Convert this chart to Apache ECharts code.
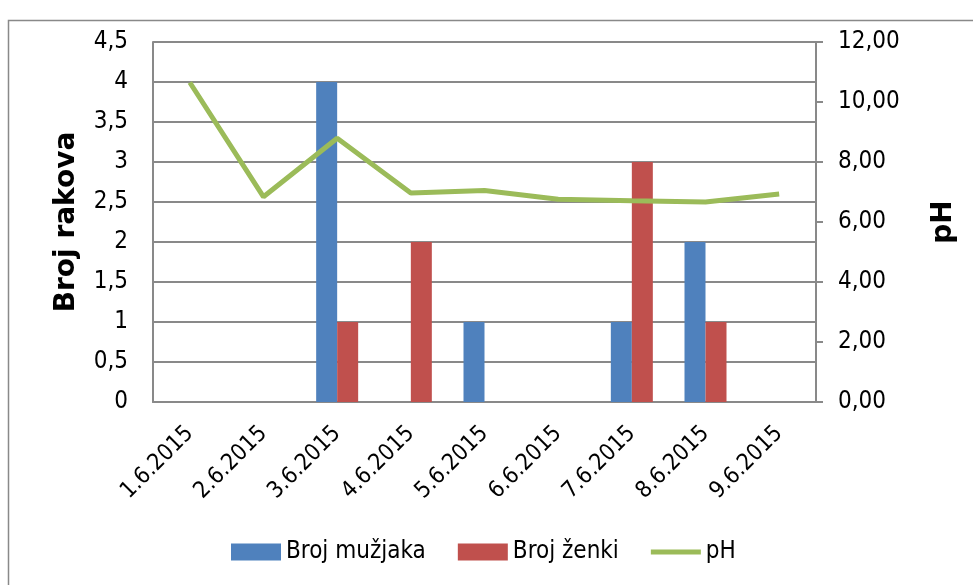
<!DOCTYPE html>
<html>
<head>
<meta charset="utf-8">
<script src="https://cdn.jsdelivr.net/npm/echarts@6/dist/echarts.min.js"></script>
<style>
  html, body { margin: 0; padding: 0; background: #fff; }
  #chart { width: 973px; height: 585px; }
</style>
</head>
<body>
<div id="chart"></div>
<script>
// datumi uzorkovanja
const dates = ['1.6.2015', '2.6.2015', '3.6.2015', '4.6.2015', '5.6.2015',
  '6.6.2015', '7.6.2015', '8.6.2015', '9.6.2015']
// broj rakova po spolu
const males = [0, 0, 4, 0, 1, 0, 1, 2, 0]
const females = [0, 0, 1, 2, 0, 0, 3, 1, 0]
// pH vode
const ph = [10.65, 6.84, 8.79, 6.97, 7.05, 6.76, 6.71, 6.67, 6.93]

const font = '"Liberation Sans Narrow", "DejaVu Sans Condensed", "Open Sans", sans-serif'
const gray = '#898989'
const titleStyle = { fontFamily: 'DejaVu Sans, sans-serif', fontSize: 28, fontWeight: 'bold', color: '#000' }

const myChart = echarts.init(document.getElementById('chart'))

const option = {
  animation: false,
  textStyle: { fontFamily: font, color: '#000' },
  graphic: [{
    type: 'rect',
    shape: { x: 8.5, y: 20.5, width: 1000, height: 600 },
    style: { fill: 'none', stroke: gray, lineWidth: 1.5 },
    silent: true
  }],
  grid: { left: 153, right: 157, top: 42, bottom: 183 },
  legend: {
    bottom: 16,
    left: 226,
    itemWidth: 50,
    itemHeight: 17,
    itemGap: 32,
    textStyle: { fontFamily: font, fontSize: 24, color: '#000' },
    data: [
      { name: 'Broj mužjaka', icon: 'rect' },
      { name: 'Broj ženki', icon: 'rect' },
      { name: 'pH', icon: 'path://M0,0 L52,0 L52,5 L0,5 Z' }
    ]
  },
  xAxis: {
    type: 'category',
    data: dates,
    axisLine: { lineStyle: { color: gray, width: 2 } },
    axisTick: { show: false },
    axisLabel: {
      rotate: 45,
      margin: 28,
      fontSize: 23,
      fontFamily: font,
      color: '#000'
    }
  },
  yAxis: [{
    type: 'value',
    min: 0,
    max: 4.5,
    interval: 0.5,
    name: 'Broj rakova',
    nameLocation: 'middle',
    nameGap: 72,
    nameMoveOverlap: false,
    nameRotate: 90,
    nameTextStyle: titleStyle,
    axisLine: { show: true, lineStyle: { color: gray, width: 2 } },
    axisTick: { show: false },
    splitLine: { lineStyle: { color: gray, width: 2 } },
    axisLabel: {
      margin: 25,
      fontSize: 24,
      fontFamily: font,
      color: '#000',
      formatter: v => String(v).replace('.', ',')
    }
  }, {
    type: 'value',
    min: 0,
    max: 12,
    interval: 2,
    name: 'pH',
    nameLocation: 'middle',
    nameGap: 114,
    nameMoveOverlap: false,
    nameRotate: 90,
    nameTextStyle: titleStyle,
    axisLine: { show: true, lineStyle: { color: gray, width: 2 } },
    axisTick: { show: true, length: 7, lineStyle: { color: gray, width: 2 } },
    splitLine: { show: false },
    axisLabel: {
      margin: 22,
      fontSize: 24,
      fontFamily: font,
      color: '#000',
      formatter: v => v.toFixed(2).replace('.', ',')
    }
  }],
  series: [{
    name: 'Broj mužjaka',
    type: 'bar',
    data: males,
    barWidth: 21,
    barGap: '0%',
    itemStyle: { color: '#4f81bd' }
  }, {
    name: 'Broj ženki',
    type: 'bar',
    data: females,
    barWidth: 21,
    barGap: '0%',
    itemStyle: { color: '#c0504d' }
  }, {
    name: 'pH',
    type: 'line',
    yAxisIndex: 1,
    data: ph,
    symbol: 'none',
    lineStyle: { color: '#9bbb59', width: 5 },
    itemStyle: { color: '#9bbb59' }
  }]
}

myChart.setOption(option)
</script>
</body>
</html>
